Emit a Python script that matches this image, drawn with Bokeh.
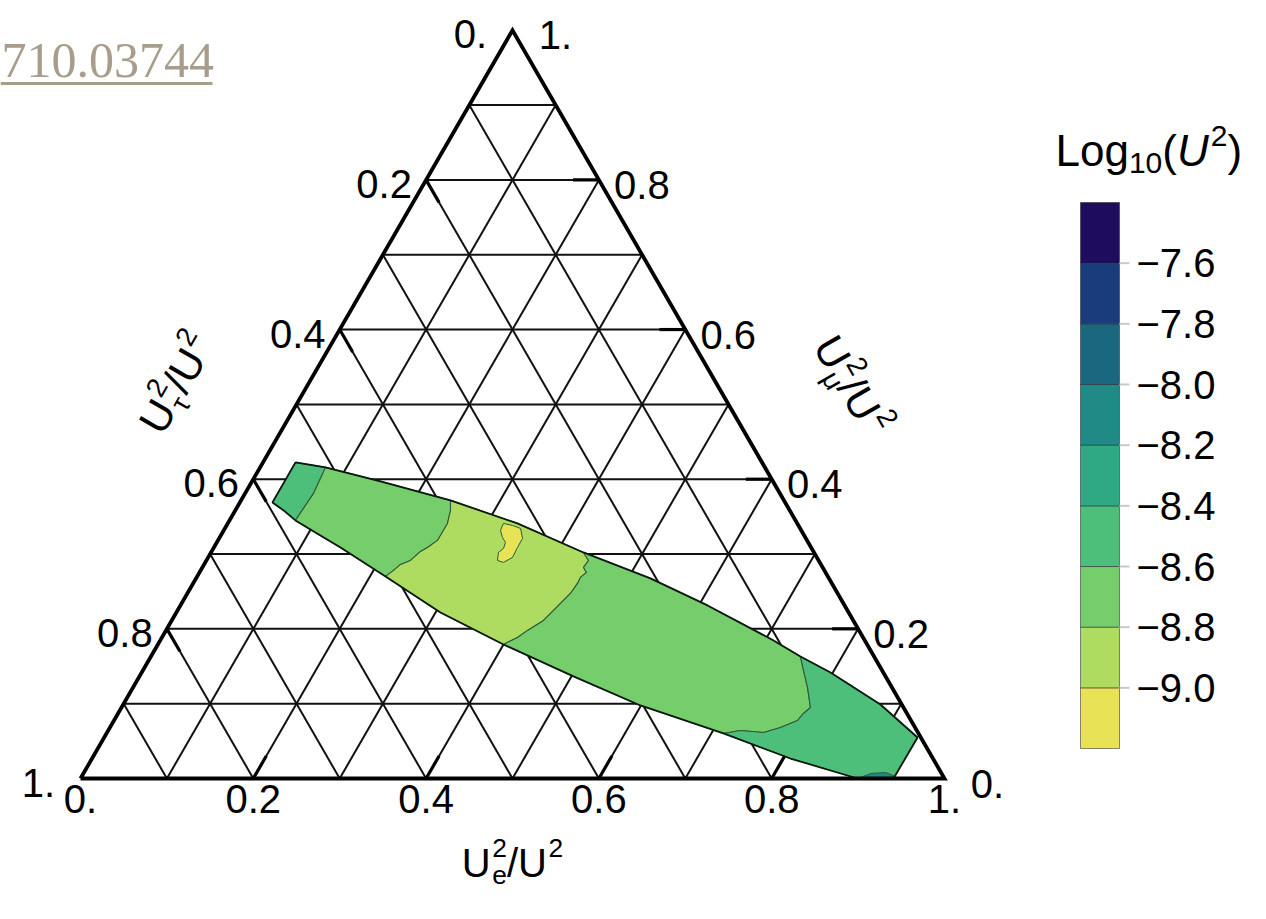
import math
import numpy as np
from bokeh.plotting import figure
from bokeh.models import Range1d
from bokeh.core.properties import value
from bokeh.embed import file_html
from bokeh.resources import INLINE

# ---------------- data ----------------
grid_vals = [0.1, 0.2, 0.3, 0.4, 0.5, 0.6, 0.7, 0.8, 0.9]
tick_vals = [0.0, 0.2, 0.4, 0.6, 0.8, 1.0]
tick_text = ["0.", "0.2", "0.4", "0.6", "0.8", "1."]
major_ticks = [0.2, 0.4, 0.6, 0.8]

# colour levels of log10(U^2)
levels = [-9.2, -9.0, -8.8, -8.6, -8.4, -8.2, -8.0, -7.8, -7.6, -7.4]
level_colors = ["#e8e256", "#aedc60", "#75cd6c", "#4ebf7b", "#2fa884",
                "#1f8a86", "#1a687f", "#183c7c", "#1e0c5f"]
cb_ticks = [-9.0, -8.8, -8.6, -8.4, -8.2, -8.0, -7.8, -7.6]

# allowed region: upper and lower edge (Ue^2/U^2 = e, Umu^2/U^2 = mu)
band_top_e = [0.0376, 0.0757, 0.1487, 0.2424, 0.3353, 0.4311, 0.5260, 0.6101,
              0.7099, 0.7517, 0.7972, 0.8764, 0.9414]
band_top_mu = [0.4225, 0.4158, 0.3971, 0.3717, 0.3409, 0.3021, 0.2674, 0.2313,
               0.1845, 0.1631, 0.1417, 0.0989, 0.0548]
band_bot_e = [0.0377, 0.0559, 0.0763, 0.1465, 0.2180, 0.3057, 0.4000, 0.5024,
              0.5993, 0.7141, 0.8084, 0.8993, 0.9410]
band_bot_mu = [0.3690, 0.3583, 0.3449, 0.3088, 0.2701, 0.2219, 0.1791, 0.1364,
               0.0976, 0.0602, 0.0267, 0.0, 0.0]

# contour boundaries crossing the band (top -> bottom)
bnd_a_e = [0.0757, 0.0792, 0.0763]
bnd_a_mu = [0.4158, 0.3810, 0.3449]
bnd_b_e = [0.2424, 0.2491, 0.2543, 0.2541, 0.2472, 0.2418, 0.2362, 0.2274, 0.2233, 0.2180]
bnd_b_mu = [0.3717, 0.3583, 0.3409, 0.3182, 0.3088, 0.3035, 0.2914, 0.2861, 0.2781, 0.2701]
bnd_c_e = [0.4311, 0.4423, 0.4412, 0.4479, 0.4443, 0.4449, 0.4434, 0.4400, 0.4352,
           0.4303, 0.4185, 0.4115, 0.4000]
bnd_c_mu = [0.3021, 0.2914, 0.2821, 0.2754, 0.2687, 0.2607, 0.2473, 0.2380, 0.2246,
            0.2112, 0.1979, 0.1885, 0.1791]
bnd_d_e = [0.7517, 0.7646, 0.7806, 0.7974, 0.7933, 0.7911, 0.7761, 0.7598, 0.7318, 0.7141]
bnd_d_mu = [0.1631, 0.1444, 0.1217, 0.0949, 0.0869, 0.0775, 0.0682, 0.0615, 0.0642, 0.0602]

# log10(U^2) value inside each region (left to right)
region_values = [-8.5, -8.7, -8.9, -8.7, -8.5]

# island of lowest values and small sliver at the bottom edge
island_e = [0.3191, 0.3309, 0.3422, 0.3512, 0.3514, 0.3523, 0.3452, 0.3369, 0.3327,
            0.3359, 0.3341, 0.3273, 0.3203]
island_mu = [0.3409, 0.3382, 0.3342, 0.3209, 0.3088, 0.2955, 0.2888, 0.2914, 0.3021,
             0.3075, 0.3155, 0.3222, 0.3316]
island_value = -9.1
sliver_e = [0.9000, 0.9111, 0.9277, 0.9390, 0.9410]
sliver_mu = [0.0, 0.0067, 0.0080, 0.0040, 0.0]
sliver_value = -8.1

# ---------------- layout helpers ----------------
W, H = 1266, 919
S = 864.0              # pixels per ternary unit
OX, OY = 80.0, 778.0   # pixel position of the triangle's bottom-left corner
R3 = math.sqrt(3) / 2
FONT = "Liberation Sans"


def sx(px):
    return (px - OX) / S


def sy(py):
    return (OY - py) / S


def tern(e, mu):
    return e + mu / 2.0, mu * R3


def color_of(v):
    i = int(np.searchsorted(levels, v)) - 1
    return level_colors[i]


p = figure(width=W, height=H, x_range=Range1d(sx(0), sx(W)), y_range=Range1d(sy(H), sy(0)),
           toolbar_location=None, output_backend="svg", min_border=0, title=None,
           x_axis_location=None, y_axis_location=None)
p.grid.visible = False
p.outline_line_color = None
p.background_fill_color = "white"
p.border_fill_color = "white"

# ---------------- ternary grid ----------------
gx, gy = [], []
for v in grid_vals:
    for (a, b) in [((0, v), (1 - v, v)), ((v, 0), (v, 1 - v)), ((0, 1 - v), (1 - v, 0))]:
        x0, y0 = tern(*a)
        x1, y1 = tern(*b)
        gx.append([x0, x1])
        gy.append([y0, y1])
p.multi_line(gx, gy, line_color="#111111", line_width=2.0)

# ---------------- band regions ----------------
top = list(zip(band_top_e, band_top_mu))
bot = list(zip(band_bot_e, band_bot_mu))
bounds = [
    [top[0], bot[0]],
    list(zip(bnd_a_e, bnd_a_mu)),
    list(zip(bnd_b_e, bnd_b_mu)),
    list(zip(bnd_c_e, bnd_c_mu)),
    list(zip(bnd_d_e, bnd_d_mu)),
    [top[-1], bot[-1]],
]


def X(pt):
    return pt[0] + pt[1] / 2.0


def seg(edge, lo, hi):
    return [q for q in edge if lo - 1e-6 <= X(q) <= hi + 1e-6]


rx, ry, rc = [], [], []
for k in range(len(bounds) - 1):
    L, R = bounds[k], bounds[k + 1]
    poly = seg(top, X(L[0]), X(R[0])) + R + seg(bot, X(L[-1]), X(R[-1]))[::-1] + L[::-1]
    xs, ys = zip(*[tern(e, m) for e, m in poly])
    rx.append(list(xs))
    ry.append(list(ys))
    rc.append(color_of(region_values[k]))
p.patches(rx, ry, fill_color=rc, line_color="#2f5a3c", line_width=1.1)

for es, ms, val in [(island_e, island_mu, island_value), (sliver_e, sliver_mu, sliver_value)]:
    xs, ys = zip(*[tern(e, m) for e, m in zip(es, ms)])
    p.patch(list(xs), list(ys), fill_color=color_of(val), line_color="#2f5a3c", line_width=1.0)

outline = top + bot[::-1] + [top[0]]
ox_, oy_ = zip(*[tern(e, m) for e, m in outline])
p.line(list(ox_), list(oy_), line_color="#0a1a0e", line_width=1.8)

# ---------------- triangle edges and ticks ----------------
ex, ey = zip(*[tern(0, 0), tern(1, 0), tern(0, 1), tern(0, 0)])
p.line(list(ex), list(ey), line_color="black", line_width=3.8, line_join="miter")

tl = 0.03
tx, ty = [], []
for v in major_ticks:
    for (a, b) in [((v, 0), (v, tl)),                  # bottom axis (Ue)
                   ((1 - v, v), (1 - v - tl, v)),      # right axis (Umu)
                   ((0, 1 - v), (tl, 1 - v - tl))]:    # left axis (Utau)
        x0, y0 = tern(*a)
        x1, y1 = tern(*b)
        tx.append([x0, x1])
        ty.append([y0, y1])
p.multi_line(tx, ty, line_color="black", line_width=3.2)

lab_kw = dict(text_font=value(FONT), text_font_size="40px", text_color="black",
              text_align="center", text_baseline="middle")
bx = [tern(v, 0)[0] for v in tick_vals]
by = [tern(v, 0)[1] - 20 / S for v in tick_vals]
p.text(bx, by, text=tick_text, **lab_kw)
lx = [tern(0, 1 - v)[0] - 42 / S for v in tick_vals]
ly = [tern(0, 1 - v)[1] - 4 / S for v in tick_vals]
p.text(lx, ly, text=tick_text, **lab_kw)
qx = [tern(1 - v, v)[0] + 43 / S for v in tick_vals]
qy = [tern(1 - v, v)[1] - 5 / S for v in tick_vals]
p.text(qx, qy, text=tick_text, **lab_kw)


# ---------------- rich-text titles (v = offset of each piece's centre line) ----------------
def rich(parts, cx_px, cy_px, ang):
    ca, sa = math.cos(ang), math.sin(ang)
    for (t, u, v, size, style) in parts:
        dx = u * ca - v * sa
        dy = u * sa + v * ca
        p.text(x=[sx(cx_px) + dx / S], y=[sy(cy_px) + dy / S], text=[t], angle=ang,
               text_font=value(FONT), text_font_size=f"{size:.1f}px", text_font_style=style,
               text_color="black", text_align="left", text_baseline="middle")


def ratio_title(sub, F):
    s = 0.66 * F
    wU, w2, wsl, gap = 0.722 * F, 0.556 * s, 0.278 * F, 0.04 * F
    wsub = {"e": 0.556, "τ": 0.45, "μ": 0.576}[sub] * s
    wst = max(w2, wsub)
    total = 2 * wU + 2 * gap + wst + wsl + w2
    u0 = -total / 2
    return [("U", u0, 0, F, "normal"),
            ("2", u0 + wU + gap, 0.36 * F, s, "normal"),
            (sub, u0 + wU + gap, -0.32 * F, s, "normal"),
            ("/", u0 + wU + gap + wst, 0, F, "normal"),
            ("U", u0 + wU + gap + wst + wsl, 0, F, "normal"),
            ("2", u0 + 2 * wU + 2 * gap + wst + wsl, 0.36 * F, s, "normal")]


rich(ratio_title("e", 40), 512, 862, 0.0)
rich(ratio_title("τ", 42), 176, 383, math.pi / 3)
rich(ratio_title("μ", 42), 851, 385, -math.pi / 3)

# ---------------- colour bar ----------------
k = (levels[-1] - levels[0]) / (748 - 202)
p.extra_y_ranges = {"cb": Range1d(start=levels[0] - (H - 748) * k, end=levels[0] + 748 * k)}
p.quad(left=sx(1080), right=sx(1119), bottom=levels[:-1], top=levels[1:], y_range_name="cb",
       fill_color=level_colors, line_color="#2a2a2a", line_alpha=0.55, line_width=1)
p.segment(x0=sx(1119), x1=sx(1129), y0=cb_ticks, y1=cb_ticks, y_range_name="cb",
          line_color="#c8c8c8", line_width=2)
p.text(x=[sx(1136)] * len(cb_ticks), y=cb_ticks,
       text=[f"{v:.1f}".replace("-", "\u2212") for v in cb_ticks], y_range_name="cb",
       text_font=value(FONT), text_font_size="40px", text_color="black",
       text_align="left", text_baseline="middle")

F, s = 44, 30
rich([("Log", 0, 0, F, "normal"),
      ("10", 1.668 * F, -0.28 * F, s, "normal"),
      ("(", 1.668 * F + 1.112 * s, 0, F, "normal"),
      ("U", 2.001 * F + 1.112 * s, 0, F, "italic"),
      ("2", 2.77 * F + 1.112 * s, 0.33 * F, s, "normal"),
      (")", 2.77 * F + 1.668 * s, 0, F, "normal")], 1055, 150, 0.0)

# ---------------- link fragment at top-left ----------------
p.text(x=[sx(1)], y=[sy(60)], text=["710.03744"], text_font=value("Liberation Serif"),
       text_font_size="50px", text_color="#a89c8b", text_align="left", text_baseline="middle")
p.segment(x0=[sx(0)], x1=[sx(212)], y0=[sy(83)], y1=[sy(83)], line_color="#a89c8b", line_width=3)

open("out.html", "w").write(file_html(p, INLINE))
